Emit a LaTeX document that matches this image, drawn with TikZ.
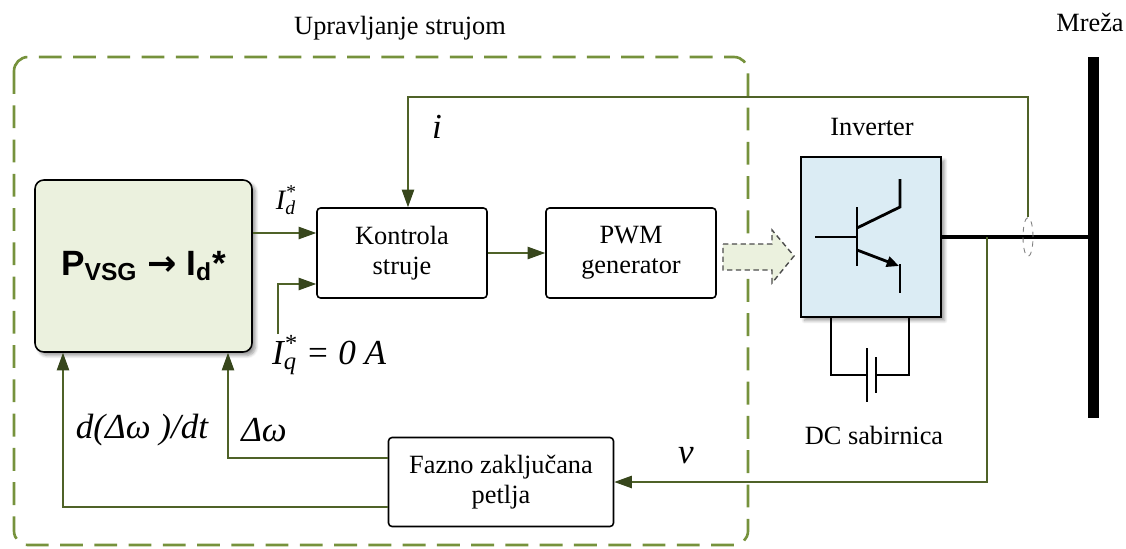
\documentclass[tikz,border=0pt]{standalone}
\usepackage{fontspec}
\setmainfont{Liberation Serif}
\setsansfont{Liberation Sans}
\newfontfamily\serifface{Liberation Serif}
\newfontfamily\boldsans{Liberation Sans}
\newfontfamily\arrowface{DejaVu Sans}
\definecolor{frameOlive}{RGB}{118, 146, 60}
\definecolor{lineOlive}{RGB}{79, 98, 40}
\definecolor{headOlive}{RGB}{55, 70, 28}
\definecolor{vsgGreen}{RGB}{235, 241, 222}
\definecolor{invBlue}{RGB}{219, 236, 244}
\usetikzlibrary{shapes,arrows.meta,calc,shadows.blur,positioning}

\begin{document}
\begin{tikzpicture}[x=0.02cm,y=-0.02cm,
                box/.style={draw,rounded corners=2pt,fill=white,line width=0.9pt,minimum width=3.4cm,minimum height=1.8cm,
                             align=center,font=\serifface\fontsize{15}{17}\selectfont,inner sep=2pt},
                sig/.style={draw=lineOlive,line width=0.9pt,-{Triangle[length=10pt,width=7pt,color=headOlive]}},
                lbl/.style={font=\serifface\fontsize{15}{17}\selectfont},
                var/.style={font=\serifface\fontsize{20}{22}\selectfont\itshape},
                sym/.style={line width=1.6pt}
            ]
                \useasboundingbox (0,0) rectangle (1126,548);
                % current control frame
                \draw[frameOlive,line width=1.5pt,dash pattern=on 13pt off 6.5pt,rounded corners=8pt] (14,57) rectangle (748,545);
                \node[lbl] (title) at (400,28) {Upravljanje strujom};
                % blocks
                \node[draw,rounded corners=5pt,fill=vsgGreen,line width=0.9pt,minimum width=4.34cm,minimum height=3.44cm,
                      blur shadow={shadow xshift=2pt,shadow yshift=-2pt,shadow blur steps=6},
                      font=\boldsans\fontsize{20}{22}\selectfont\bfseries] (vsg) at (143.5,266)
                      {P\textsubscript{VSG} {\arrowface\bfseries →} I\textsubscript{d}*};
                \node[box] (kontrola) at (402,253) {Kontrola\\struje};
                \node[box] (pwm) at (631,253) {PWM\\generator};
                \node[box,minimum width=4.5cm,minimum height=1.78cm] (fazno) at (501,482) {Fazno zaključana\\petlja};
                \draw[draw=black!70,dash pattern=on 3pt off 2pt,fill=vsgGreen,line width=0.8pt]
                      (723,244) -- (772,244) -- (772,230) -- (794,256) -- (772,283) -- (772,270) -- (723,270) -- cycle;
                \node[draw,fill=invBlue,line width=1.2pt,minimum width=2.8cm,minimum height=3.2cm,
                      blur shadow={shadow xshift=2pt,shadow yshift=-2pt,shadow blur steps=6}] (inv) at (871,237) {};
                \node[lbl] (invlabel) at (872,127) {Inverter};
                \node[lbl] (dclabel) at (874,435) {DC sabirnica};
                \node[fill=black,minimum width=0.22cm,minimum height=7.22cm,inner sep=0] (bus) at (1093.5,237.5) {};
                \node[lbl] (mreza) at (1090,22) {Mreža};
                % transistor and dc link
                \draw[sym] (815,237) -- (857,237);
                \draw[sym] (857,207) -- (857,266);
                \draw[sym] (857,228) -- (900,207) -- (900,179);
                \draw[sym,-{Triangle[length=7pt,width=6pt]}] (857,250) -- (899,266);
                \draw[sym] (900,264) -- (900,293);
                \draw[line width=1.1pt] (inv.south -| 831,0) |- (867,375);
                \draw[line width=1.1pt] (inv.south -| 909,0) |- (876,375);
                \draw[line width=1.1pt] (867,348) -- (867,402);
                \draw[line width=1.1pt] (876,357) -- (876,393);
                % grid connection
                \draw[line width=2.2pt] (inv.east) -- (inv.east -| bus.west);
                \node[ellipse,draw=gray,dashed,line width=0.5pt,minimum width=0.2cm,minimum height=0.78cm,inner sep=0] (ct) at (1028,237) {};
                \coordinate (vtap) at (987,237);
                \coordinate (itop) at (408,97);
                \coordinate (iq) at (278,334);
                % signals
                \draw[sig] (ct.north) |- (itop) -- (itop |- kontrola.north);
                \draw[sig] (vsg.east |- 0,233) -- (kontrola.west |- 0,233);
                \draw[sig] (iq) |- (kontrola.west |- 0,284);
                \draw[sig] (kontrola.east) -- (pwm.west);
                \draw[sig] (vtap) |- (fazno.east);
                \draw[sig] (fazno.west |- 0,458) -| (vsg.south -| 228,0);
                \draw[sig] (fazno.west |- 0,507) -| (vsg.south -| 63,0);
                % labels
                \node[var] (ilabel) at (437,127) {i};
                \node[var,font=\serifface\fontsize{16}{18}\selectfont\itshape] (idlabel) at (286,200) {I\rlap{\textsubscript{d}}\textsuperscript{*}};
                \node[var,anchor=west] (iqlabel) at (266,355) {I\rlap{\textsubscript{q}}\textsuperscript{*} = 0 A};
                \node[var] (dwdt) at (142,430) {d(Δω )/dt};
                \node[var] (dw) at (264,430) {Δω};
                \node[var] (vlabel) at (686,456) {v};
            \end{tikzpicture}
\end{document}
